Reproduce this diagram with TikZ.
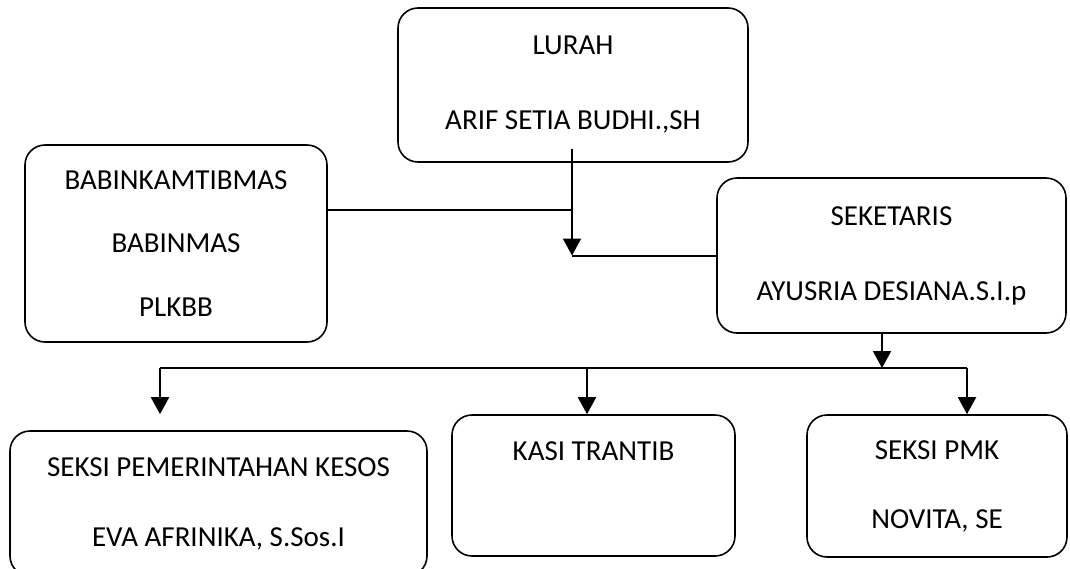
\documentclass[tikz,border=0pt]{standalone}
\usepackage{fontspec}
\setmainfont{Carlito}
\usetikzlibrary{arrows.meta}
\begin{document}
\begin{tikzpicture}[x=1pt, y=-1pt,
		box/.style={draw, line width=1.6pt, rounded corners=20pt, align=center, inner sep=0pt, font=\fontsize{29}{35}\selectfont},
		link/.style={line width=2pt},
		>={Triangle[width=18pt,length=17pt]}]
	\useasboundingbox (0,0) rectangle (1070,568);
	\node[box, minimum width=350pt, minimum height=154pt] (lurah) at (573,85) {LURAH\\[40pt]ARIF SETIA BUDHI.,SH};
	\node[box, minimum width=302pt, minimum height=197pt] (babin) at (176,243.5) {BABINKAMTIBMAS\\[28.5pt]BABINMAS\\[28.5pt]PLKBB};
	\node[box, minimum width=349pt, minimum height=155pt] (sek) at (891.5,255.5) {SEKETARIS\\[40pt]AYUSRIA DESIANA.S.I.p};
	\node[box, minimum width=417pt, minimum height=145pt] (kesos) at (218.5,503.5) {SEKSI PEMERINTAHAN KESOS\\[35pt]EVA AFRINIKA, S.Sos.I};
	\node[box, minimum width=283pt, minimum height=141pt] (trantib) at (593.5,485.5) {KASI TRANTIB\\[34pt]~};
	\node[box, minimum width=260pt, minimum height=142pt] (pmk) at (937,486) {SEKSI PMK\\[34pt]NOVITA, SE};
	\coordinate (lurahfoot) at (572,149);
	\coordinate (babinout) at ([yshift=33.5pt]babin.east);
	\coordinate (sekfoot) at ([xshift=-9.5pt]sek.south);
	\coordinate (busL) at (160,368);
	\coordinate (busM) at (587,368);
	\coordinate (busR) at (967,368);
	\draw[link, ->] (lurahfoot) -- (lurahfoot |- sek.west);
	\draw[link] (lurahfoot |- sek.west) -- (sek.west);
	\draw[link] (babinout) -- (babinout -| lurahfoot);
	\draw[link, ->] (sekfoot) -- (sekfoot |- busR);
	\draw[link] (busL) -- (busR);
	\draw[link, ->, shorten >=16pt] (busL) -- (busL |- kesos.north);
	\draw[link, ->] (busM) -- (busM |- trantib.north);
	\draw[link, ->] (busR) -- (busR |- pmk.north);
\end{tikzpicture}
\end{document}
